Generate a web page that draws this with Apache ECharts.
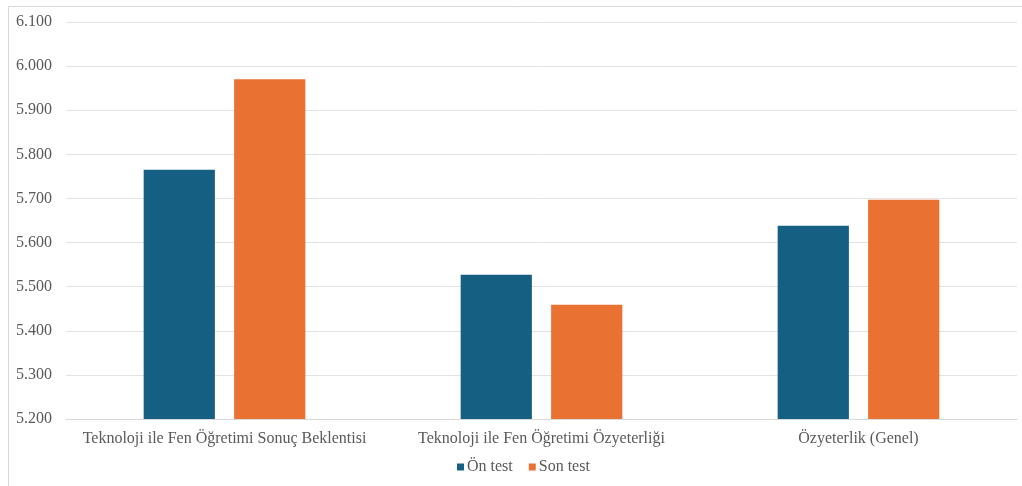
<!DOCTYPE html>
<html>
<head>
<meta charset="utf-8">
<script src="https://cdn.jsdelivr.net/npm/echarts@6/dist/echarts.min.js"></script>
<style>
  html, body { margin: 0; padding: 0; background: #ffffff; }
  #chart { width: 1022px; height: 486px; }
</style>
</head>
<body>
<div id="chart"></div>
<script>
// Scale categories and the two measurement series
const categories = [
  'Teknoloji ile Fen Öğretimi Sonuç Beklentisi',
  'Teknoloji ile Fen Öğretimi Özyeterliği',
  'Özyeterlik (Genel)'
];
const onTest = [5.765, 5.527, 5.638];
const sonTest = [5.970, 5.459, 5.697];
const yMin = 5.2;
const yMax = 6.1;
const yStep = 0.1;

const textColor = '#595959';
const fontFamily = '"Liberation Serif", "DejaVu Serif", serif';

const chart = echarts.init(document.getElementById('chart'));
chart.setOption({
  animation: false,
  textStyle: { fontFamily: fontFamily },
  graphic: [{
    type: 'rect',
    shape: { x: 8.5, y: 6.5, width: 1030, height: 500 },
    style: { fill: 'none', stroke: '#d9d9d9', lineWidth: 1 },
    silent: true,
    z: -1
  }],
  grid: { left: 66, right: 5, top: 22, bottom: 67, containLabel: false },
  legend: {
    top: 459,
    left: 457,
    padding: 0,
    itemWidth: 7,
    itemHeight: 7,
    itemGap: 16,
    icon: 'rect',
    textStyle: { color: textColor, fontSize: 16, fontFamily: fontFamily, padding: [0, 0, 0, -2] },
    data: ['Ön test', 'Son test']
  },
  xAxis: {
    type: 'category',
    data: categories,
    axisLine: { lineStyle: { color: '#d9d9d9' } },
    axisTick: { show: false },
    axisLabel: { color: textColor, fontSize: 16, fontFamily: fontFamily, margin: 12, interval: 0 }
  },
  yAxis: {
    type: 'value',
    min: yMin,
    max: yMax,
    interval: yStep,
    axisLine: { show: false },
    axisTick: { show: false },
    splitLine: { lineStyle: { color: '#e3e3e3', width: 1 } },
    axisLabel: {
      color: textColor,
      fontSize: 16,
      fontFamily: fontFamily,
      margin: 14,
      formatter: v => v.toFixed(3)
    }
  },
  series: [
    {
      name: 'Ön test',
      type: 'bar',
      data: onTest,
      barGap: '27%',
      barCategoryGap: '49%',
      itemStyle: { color: '#156082' }
    },
    {
      name: 'Son test',
      type: 'bar',
      data: sonTest,
      itemStyle: { color: '#E97132' }
    }
  ]
});
</script>
</body>
</html>
